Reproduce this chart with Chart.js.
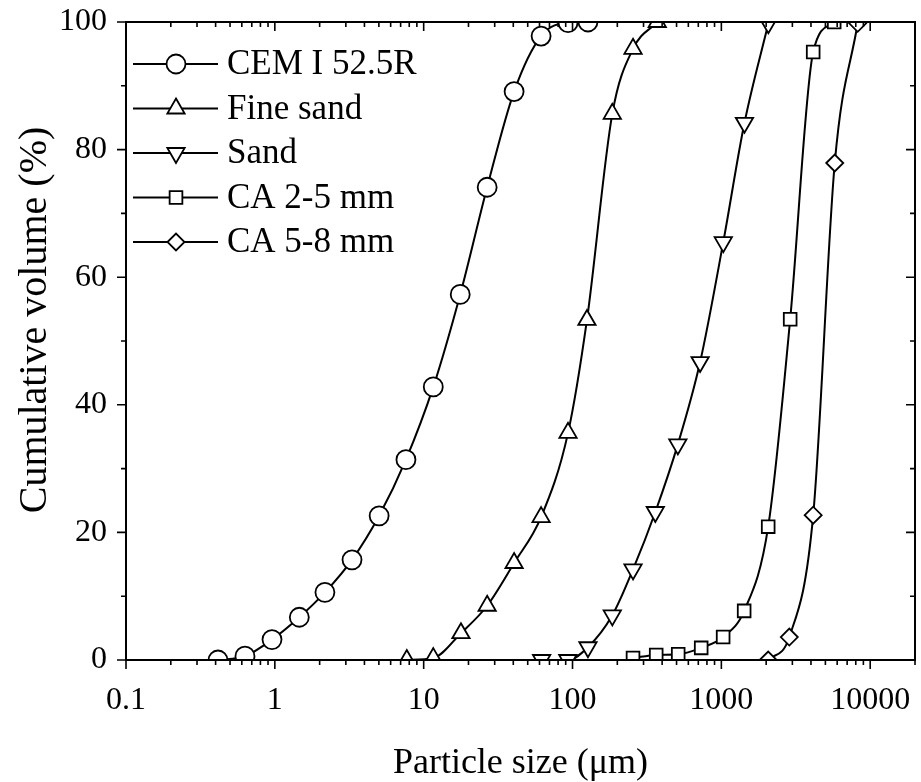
<!DOCTYPE html>
<html>
<head>
<meta charset="utf-8">
<script src="https://cdn.jsdelivr.net/npm/chart.js@4.4.1/dist/chart.umd.min.js"></script>
<style>
  body { margin: 0; background: #fff; }
  canvas { display: block; }
</style>
</head>
<body>
<canvas id="psd" width="921" height="782"></canvas>
<script>
// particle size (µm) / cumulative volume (%)
const cemSize = [0.415, 0.63, 0.957, 1.46, 2.17, 3.3, 5.02, 7.6, 11.6, 17.6, 26.7, 40.5, 61.5, 93.3, 127];
const cemPassing = [0, 0.6, 3.2, 6.7, 10.6, 15.7, 22.6, 31.4, 42.8, 57.3, 74.1, 89.1, 97.8, 99.9, 100];

const fineSandSize = [7.7, 11.6, 17.8, 26.7, 40.5, 61.5, 93.3, 125, 185, 255, 371];
const fineSandPassing = [0, 0.3, 4.2, 8.5, 15.2, 22.4, 35.6, 53.3, 85.6, 95.8, 100];

const sandSize = [62, 93, 127, 185, 255, 360, 510, 720, 1030, 1430, 2070];
const sandPassing = [0, 0, 2, 7, 14.2, 23.2, 33.8, 46.7, 65.5, 84.2, 99.8];

const ca25Size = [255, 365, 513, 732, 1028, 1423, 2064, 2900, 4140, 5730];
const ca25Passing = [0.3, 0.8, 0.9, 1.9, 3.6, 7.7, 20.9, 53.4, 95.3, 100];

const ca58Size = [2064, 2860, 4140, 5780, 8240];
const ca58Passing = [0, 3.6, 22.7, 77.9, 99.8];

const seriesNames = ['CEM I 52.5R', 'Fine sand', 'Sand', 'CA 2-5 mm', 'CA 5-8 mm'];
const xMajorTicks = [0.1, 1, 10, 100, 1000, 10000];
const yTickLabels = [0, 20, 40, 60, 80, 100];

const FONT = "'Liberation Serif', 'Times New Roman', serif";

function toPoints(sizes, passing) {
    return sizes.map((s, i) => ({ x: s, y: passing[i] }));
}

function makeSet(label, sizes, passing, style, radius, rotation) {
    return {
        label: label,
        data: toPoints(sizes, passing),
        borderColor: '#000',
        borderWidth: 2,
        cubicInterpolationMode: 'monotone',
        pointStyle: style,
        pointRadius: radius,
        pointRotation: rotation || 0,
        pointBackgroundColor: '#fff',
        pointBorderColor: '#000',
        pointBorderWidth: 1.8,
        clip: 0
    };
}

// invisible tick marks only reserve room for the labels (real ticks are drawn below)
const hiddenGrid = tl => ({
    display: true,
    drawOnChartArea: false,
    drawTicks: true,
    tickLength: tl,
    color: 'rgba(0,0,0,0)'
});

// frame, ticks, legend and y title drawn on top of the datasets
const framePlugin = {
    id: 'framePlugin',
    afterDatasetsDraw(chart) {
        const { ctx, chartArea: a, scales: { x, y } } = chart;
        ctx.save();
        ctx.strokeStyle = '#000';
        ctx.lineWidth = 2;
        ctx.strokeRect(a.left, a.top, a.right - a.left, a.bottom - a.top);

        ctx.lineWidth = 1.6;
        ctx.beginPath();
        x.ticks.forEach(t => {
            const px = x.getPixelForValue(t.value);
            const len = xMajorTicks.includes(t.value) ? 9 : 5;
            ctx.moveTo(px, a.bottom); ctx.lineTo(px, a.bottom + len); // outward
            ctx.moveTo(px, a.top); ctx.lineTo(px, a.top + len);       // inward
        });
        y.ticks.forEach(t => {
            const py = y.getPixelForValue(t.value);
            const len = yTickLabels.includes(t.value) ? 9 : 5;
            ctx.moveTo(a.left, py); ctx.lineTo(a.left - len, py);
            ctx.moveTo(a.right, py); ctx.lineTo(a.right - len, py);
        });
        ctx.stroke();
        ctx.restore();
    },
    afterDraw(chart) {
        const { ctx } = chart;
        ctx.save();
        // legend
        chart.data.datasets.forEach((ds, i) => {
            const ly = 64 + i * 44.5;
            ctx.strokeStyle = '#000';
            ctx.lineWidth = 2;
            ctx.beginPath();
            ctx.moveTo(133, ly);
            ctx.lineTo(218, ly);
            ctx.stroke();
            ctx.fillStyle = '#fff';
            ctx.lineWidth = ds.pointBorderWidth;
            Chart.helpers.drawPoint(ctx, {
                pointStyle: ds.pointStyle,
                rotation: ds.pointRotation,
                radius: ds.pointRadius,
                borderWidth: ds.pointBorderWidth
            }, 176, ly);
            ctx.fillStyle = '#000';
            ctx.font = '35px ' + FONT;
            ctx.textAlign = 'left';
            ctx.textBaseline = 'middle';
            ctx.fillText(ds.label, 227, ly + 1);
        });
        // y axis title
        ctx.translate(35, 320);
        ctx.rotate(-Math.PI / 2);
        ctx.fillStyle = '#000';
        ctx.font = '40px ' + FONT;
        ctx.textAlign = 'center';
        ctx.textBaseline = 'middle';
        ctx.fillText('Cumulative volume (%)', 0, 0);
        ctx.restore();
    }
};

const ctx = document.getElementById('psd').getContext('2d');
new Chart(ctx, {
    type: 'line',
    data: {
        datasets: [
            makeSet(seriesNames[0], cemSize, cemPassing, 'circle', 9.5),
            makeSet(seriesNames[1], fineSandSize, fineSandPassing, 'triangle', 10),
            makeSet(seriesNames[2], sandSize, sandPassing, 'triangle', 10, 180),
            makeSet(seriesNames[3], ca25Size, ca25Passing, 'rect', 9),
            makeSet(seriesNames[4], ca58Size, ca58Passing, 'rectRot', 8.5)
        ]
    },
    options: {
        responsive: false,
        animation: false,
        layout: {
            autoPadding: false,
            padding: { top: 22, right: 6, left: 0, bottom: 0 }
        },
        plugins: {
            legend: { display: false },
            tooltip: { enabled: false }
        },
        scales: {
            x: {
                type: 'logarithmic',
                min: 0.1,
                max: 20000,
                grid: hiddenGrid(21),
                border: { display: false },
                afterBuildTicks: scale => {
                    const ticks = [];
                    xMajorTicks.forEach(m => {
                        for (let k = 1; k <= 9; k++) {
                            const v = +(m * k).toPrecision(3);
                            if (v <= 20000) ticks.push({ value: v });
                        }
                    });
                    ticks.push({ value: 20000 });
                    scale.ticks = ticks;
                },
                afterFit: scale => {
                    scale.height = 122;
                    scale.paddingLeft = 0;
                    scale.paddingRight = 0;
                },
                ticks: {
                    autoSkip: false,
                    maxRotation: 0,
                    padding: 0,
                    color: '#000',
                    font: { family: FONT, size: 32 },
                    callback: v => xMajorTicks.includes(v) ? String(v) : ''
                },
                title: {
                    display: true,
                    text: 'Particle size (\u03bcm)',
                    color: '#000',
                    padding: 0,
                    font: { family: FONT, size: 36, lineHeight: 1 }
                }
            },
            y: {
                min: 0,
                max: 100,
                grid: hiddenGrid(19),
                border: { display: false },
                afterFit: scale => { scale.width = 126; },
                ticks: {
                    stepSize: 10,
                    padding: 0,
                    color: '#000',
                    font: { family: FONT, size: 32 },
                    callback: v => yTickLabels.includes(v) ? String(v) : ''
                }
            }
        }
    },
    plugins: [framePlugin]
});
</script>
</body>
</html>
